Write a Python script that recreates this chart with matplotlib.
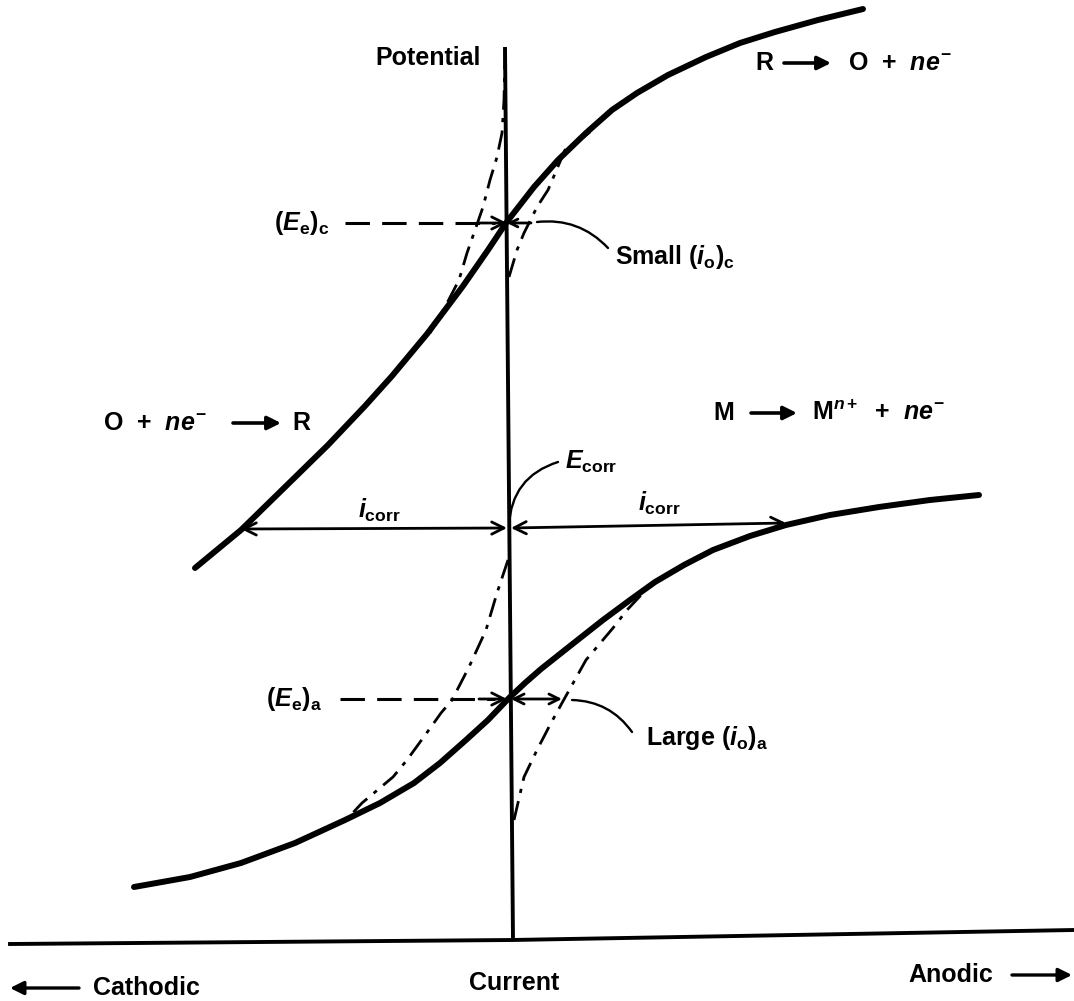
import matplotlib
matplotlib.use("Agg")
from matplotlib import pyplot as plt
import numpy as np

plt.rcParams["font.family"] = ["Liberation Sans", "DejaVu Sans"]
plt.rcParams["font.weight"] = "bold"
plt.rcParams["mathtext.fontset"] = "custom"
plt.rcParams["mathtext.rm"] = "Liberation Sans:bold"
plt.rcParams["mathtext.it"] = "Liberation Sans:italic:bold"
plt.rcParams["mathtext.bf"] = "Liberation Sans:bold"

# current (x, relative to the potential axis) and potential (y)
redox_i = [-314, -268, -226, -181, -144, -117, -82, -46, -21, -3, 25, 49, 77,
           103, 128, 159, 197, 231, 266, 309, 354]
redox_E = [372, 410, 451, 495, 534, 564, 606, 654, 690, 717, 753, 780, 807,
           830, 847, 865, 883, 897, 908, 920, 931]

metal_i = [-375, -319, -268, -214, -164, -129, -95, -69, -43, -21, 0, 16, 32,
           61, 94, 121, 146, 175, 204, 241, 277, 321, 370, 421, 470]
metal_E = [53, 63, 77, 97, 120, 137, 157, 177, 200, 220, 242, 257, 271,
           294, 320, 340, 358, 375, 390, 404, 415, 425, 433, 440, 445]

# dash-dot partial curves
redox_cath_i = [-4, -5, -7, -12, -19, -26, -35, -42, -50, -64, -79]
redox_cath_E = [890, 840, 807, 783, 760, 733, 707, 687, 660, 633, 607]
redox_anod_i = [0, 8, 15, 28, 39, 56, 71, 81]
redox_anod_E = [663, 690, 707, 733, 750, 790, 800, 808]

metal_cath_i = [-1, -12, -23, -40, -57, -68, -78, -102, -116, -147, -161]
metal_cath_E = [380, 347, 310, 273, 240, 227, 213, 180, 163, 137, 122]
metal_anod_i = [5, 15, 28, 42, 53, 77, 104, 118, 134]
metal_anod_E = [120, 163, 190, 217, 237, 280, 312, 330, 347]

E_e_c = 717
E_e_a = 241
E_corr = 412
i_corr_cath = -268
i_corr_anod = 277

fig = plt.figure(figsize=(10.74, 10.01), dpi=100)
ax = fig.add_axes([0, 0, 1, 1])
ax.set_xlim(-509, 565)
ax.set_ylim(-61, 940)
ax.axis("off")

# axes drawn by hand (scan is slightly tilted)
ax.plot([-4, 4], [893, 0], color="black", lw=2.8, solid_capstyle="butt")
ax.plot([-499, 3, 565], [-4, 0, 10], color="black", lw=2.8)

# main curves
for xs, ys in [(redox_i, redox_E), (metal_i, metal_E)]:
    ax.plot(xs, ys, color="black", lw=4.3, solid_capstyle="round", solid_joinstyle="round")

dashdot = (0, (7, 3, 1.5, 3))
for xs, ys in [(redox_cath_i, redox_cath_E), (redox_anod_i, redox_anod_E),
               (metal_cath_i, metal_cath_E), (metal_anod_i, metal_anod_E)]:
    ax.plot(xs, ys, color="black", lw=2.0, linestyle=dashdot)


def arrow(start, end, style="->", lw=2.0, size=22):
    ax.annotate("", xy=end, xytext=start,
                arrowprops=dict(arrowstyle=style, lw=lw, shrinkA=0, shrinkB=0,
                                mutation_scale=size, color="black"))


def leader(start, end, rad):
    ax.annotate("", xy=end, xytext=start,
                arrowprops=dict(arrowstyle="-", lw=1.7, shrinkA=0, shrinkB=0,
                                connectionstyle=f"arc3,rad={rad}", color="black"))


# equilibrium potential dashed arrows
dashed = (0, (8, 4))
ax.plot([-164, -14], [E_e_c, E_e_c], color="black", lw=2.2, linestyle=dashed)
arrow((-30, E_e_c), (-2, E_e_c))
arrow((22, E_e_c), (-2, E_e_c), size=14)

ax.plot([-169, -14], [E_e_a, E_e_a], color="black", lw=2.2, linestyle=dashed)
arrow((-30, E_e_a), (-2, E_e_a))
arrow((2, E_e_a), (53, E_e_a), style="<->", size=18)

# corrosion current arrows
arrow((-2, E_corr), (i_corr_cath, E_corr - 1), style="<->")
arrow((2, E_corr), (i_corr_anod, E_corr + 5), style="<->")

# leader lines
leader((0, 414), (49, 478), -0.35)
leader((28, 718), (99, 692), -0.25)
leader((63, 240), (123, 208), -0.25)

fs = 18
ax.text(-28, 882, "Potential", ha="right", va="center", fontsize=fs)
ax.text(-180, E_e_c, r"$(E_\mathrm{e})_\mathrm{c}$", ha="right", va="center", fontsize=fs)
ax.text(-187, E_e_a, r"$(E_\mathrm{e})_\mathrm{a}$", ha="right", va="center", fontsize=fs)

# R -> O + ne-
ax.text(246, 877, "R", ha="left", va="center", fontsize=fs)
arrow((275, 877), (322, 877), style="-|>", lw=2.6, size=20)
ax.text(339, 877, r"O  +  $ne^{-}$", ha="left", va="center", fontsize=fs)

# O + ne- -> R
ax.text(-406, 517, r"O  +  $ne^{-}$", ha="left", va="center", fontsize=fs)
arrow((-276, 517), (-228, 517), style="-|>", lw=2.6, size=20)
ax.text(-217, 517, "R", ha="left", va="center", fontsize=fs)

# M -> M^n+ + ne-
ax.text(204, 527, "M", ha="left", va="center", fontsize=fs)
arrow((242, 527), (288, 527), style="-|>", lw=2.6, size=20)
ax.text(303, 527, r"M$^{n+}$  +  $ne^{-}$", ha="left", va="center", fontsize=fs)

ax.text(106, 683, r"Small $(i_\mathrm{o})_\mathrm{c}$", ha="left", va="center", fontsize=fs)
ax.text(56, 478, r"$E_\mathrm{corr}$", ha="left", va="center", fontsize=fs)
ax.text(-130, 430, r"$i_\mathrm{corr}$", ha="center", va="center", fontsize=fs)
ax.text(150, 437, r"$i_\mathrm{corr}$", ha="center", va="center", fontsize=fs)
ax.text(137, 202, r"Large $(i_\mathrm{o})_\mathrm{a}$", ha="left", va="center", fontsize=fs)

ax.text(-416, -48, "Cathodic", ha="left", va="center", fontsize=fs)
ax.text(5, -43, "Current", ha="center", va="center", fontsize=fs)
ax.text(399, -35, "Anodic", ha="left", va="center", fontsize=fs)
arrow((-430, -48), (-499, -48), style="-|>", lw=2.4, size=20)
arrow((503, -35), (563, -35), style="-|>", lw=2.4, size=20)

plt.savefig("out.png", dpi=100)
